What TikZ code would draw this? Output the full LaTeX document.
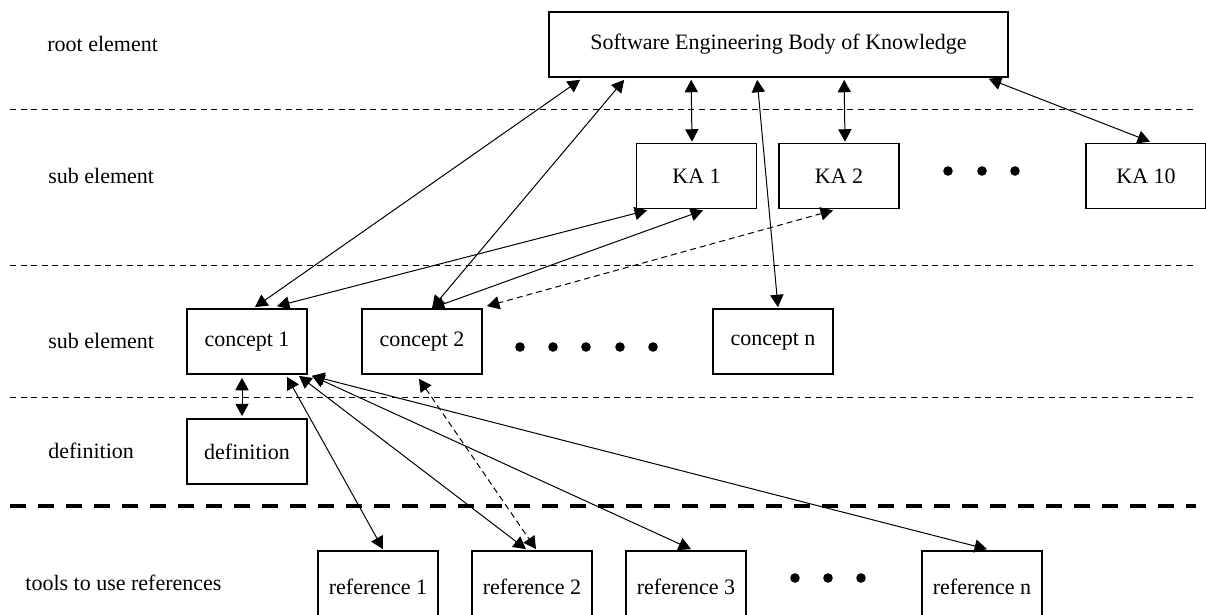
\documentclass[tikz,border=0pt]{standalone}
\usepackage{fontspec}
\setmainfont{Liberation Serif}
\usetikzlibrary{arrows.meta,calc}

\begin{document}
\begin{tikzpicture}[x=0.5pt, y=-0.5pt, >={Triangle[length=6.2pt,width=6.6pt]},
         box/.style={
         % The shape:
         rectangle,
         % The size:
         minimum height=32.5pt,
         minimum width=60pt,
         % The border
         line width=0.85pt, draw=black,
         fill=white,
         % Font
         font=\fontsize{11}{13}\selectfont},
         level/.style={anchor=west, inner sep=0pt, font=\fontsize{11}{13}\selectfont},
         layer/.style={line width=0.5pt, dash pattern=on 3pt off 2.3pt},
         link/.style={<->, line width=0.5pt},
         dlink/.style={<->, line width=0.5pt, dash pattern=on 3pt off 2pt}]
            \useasboundingbox (0,0) rectangle (1206,615);
            % layers
            \foreach \y in {110, 265, 397} {
                \draw [layer] (10,\y) -- (1196,\y);
            };
            \draw [line width=2.2pt, dash pattern=on 8pt off 6pt] (10,506) -- (1196,506);
            % level names
            \node [level] (lroot) at (47,44) {root element};
            \node [level] (lsub) at (48,176) {sub element};
            \node [level] (lsubb) at (48,341) {sub element};
            \node [level] (ldef) at (48,451) {definition};
            \node [level] (ltools) at (25,583) {tools to use references};
            % boxes
            \node [box, minimum width=229.5pt] (sebok) at (778.5,44.5) {Software Engineering Body of Knowledge};
            \node [box] (ka1) at (696.5,176) {KA 1};
            \node [box] (ka2) at (839,176) {KA 2};
            \node [box] (ka10) at (1146,176) {KA 10};
            \node [box] (c1) at (247,341.5) {concept 1};
            \node [box] (c2) at (422,341.5) {concept 2};
            \node [box] (cn) at (773,341.5) {concept n};
            \node [box] (def) at (247,451.5) {definition};
            \node [box, minimum height=36pt] (ref1) at (378,587) {reference 1};
            \node [box, minimum height=36pt] (ref2) at (532,587) {reference 2};
            \node [box, minimum height=36pt] (ref3) at (686,587) {reference 3};
            \node [box, minimum height=36pt] (refn) at (982,587) {reference n};
            % dots
            \foreach \x in {948, 982, 1015} {
                \fill (\x,171) circle [radius=2.4pt];
            };
            \foreach \x in {520, 553, 586, 620, 653} {
                \fill (\x,347) circle [radius=2.4pt];
            };
            \foreach \x in {795, 828, 861} {
                \fill (\x,578) circle [radius=2.4pt];
            };
            % links
            \draw [link] ($(sebok.south west)+(32,2)$) -- ($(c1.north)+(8,-1)$);
            \draw [link] ($(sebok.south west)+(76,2)$) -- ($(c2.north)+(10,0)$);
            \draw [link] ($(sebok.south west)+(143,2)$) -- ($(ka1.north)+(-4.5,-1)$);
            \draw [link] ($(sebok.south west)+(209,2)$) -- ($(cn.north)+(5,-1)$);
            \draw [link] ($(sebok.south west)+(296,2)$) -- ($(ka2.north)+(6,-1)$);
            \draw [link] ($(sebok.south east)+(-20,1)$) -- ($(ka10.north)+(4,-1)$);
            \draw [link] ($(ka1.south)+(-49.5,1)$) -- ($(c1.north)+(30,-2)$);
            \draw [link] ($(ka1.south)+(6.5,1)$) -- ($(c2.north)+(10,0)$);
            \draw [dlink] ($(ka2.south)+(-6,1)$) -- ($(c2.north)+(65,-2)$);
            \draw [link] ($(c1.south)+(-5,3)$) -- ($(def.north)+(-5,-2)$);
            \draw [link] ($(c1.south)+(40,2)$) -- ($(ref1.north)+(5,-1)$);
            \draw [link] ($(c1.south)+(52,1)$) -- ($(ref2.north)+(-6,-1)$);
            \draw [link] ($(c1.south)+(65,1)$) -- ($(ref3.north)+(5,-1)$);
            \draw [link] ($(c1.south)+(65,1)$) -- ($(refn.north)+(5,-1)$);
            \draw [dlink] ($(c2.south)+(-3,4)$) -- ($(ref2.north)+(4,-1)$);
\end{tikzpicture}
\end{document}
